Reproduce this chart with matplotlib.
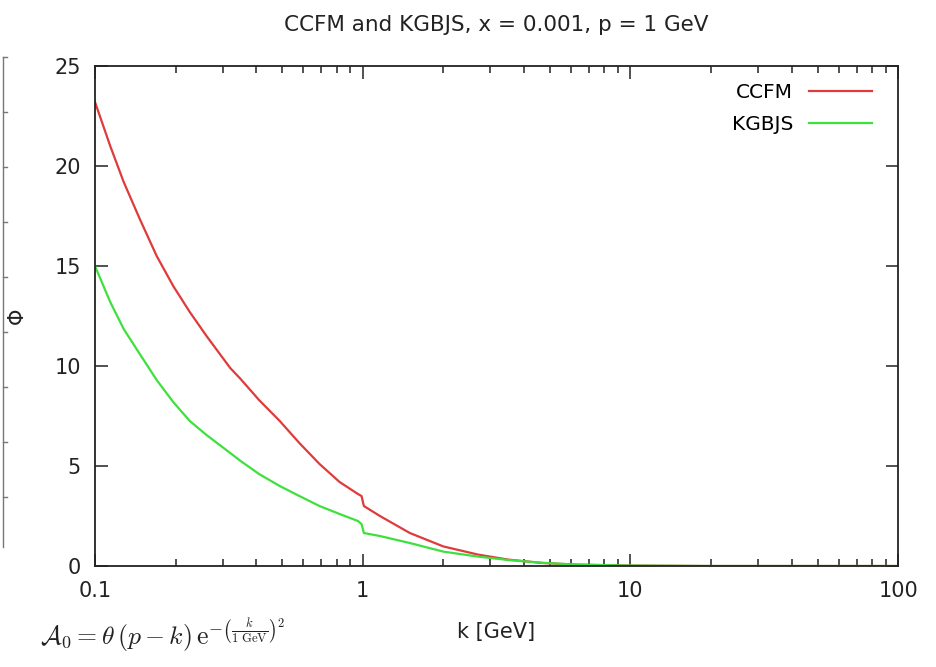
import matplotlib
matplotlib.use('Agg')
from matplotlib import pyplot as plt
from matplotlib.lines import Line2D
from matplotlib.ticker import FixedLocator, LogLocator, NullFormatter

# transverse momentum grid [GeV]
k = [0.1, 0.114, 0.128, 0.147, 0.17, 0.196, 0.226, 0.261, 0.32, 0.35,
     0.41, 0.49, 0.58, 0.69, 0.82, 0.96, 0.99, 1.01, 1.16, 1.5,
     2.0, 2.7, 3.5, 4.7, 6.3, 10, 20, 50, 100]

ccfm = [23.2, 21.0, 19.2, 17.35, 15.5, 14.0, 12.7, 11.5, 9.9, 9.35,
        8.3, 7.25, 6.15, 5.1, 4.2, 3.6, 3.5, 3.0, 2.5, 1.65,
        0.98, 0.57, 0.32, 0.15, 0.07, 0.02, 0.0, 0.0, 0.0]

kgbjs = [15.0, 13.2, 11.85, 10.6, 9.3, 8.2, 7.25, 6.55, 5.65, 5.25,
         4.6, 4.0, 3.5, 3.0, 2.6, 2.25, 2.1, 1.65, 1.5, 1.15,
         0.72, 0.47, 0.30, 0.16, 0.07, 0.02, 0.0, 0.0, 0.0]

x_ticks = [0.1, 1, 10, 100]
x_ticklabels = ['0.1', '1', '10', '100']
y_ticks = [0, 5, 10, 15, 20, 25]

plt.rcParams['font.family'] = ['DejaVu Sans']
plt.rcParams['mathtext.fontset'] = 'cm'

fig = plt.figure(figsize=(9.36, 6.67), dpi=100)
ax = fig.add_axes([0.1015, 0.1514, 0.858, 0.7496])

ax.plot(k, ccfm, color='#e03a3a', lw=1.6, label='CCFM')
ax.plot(k, kgbjs, color='#3ee03e', lw=1.6, label='KGBJS')

ax.set_xscale('log')
ax.set_xlim(0.1, 100)
ax.set_ylim(0, 25)
ax.xaxis.set_major_locator(FixedLocator(x_ticks))
ax.set_xticklabels(x_ticklabels)
ax.xaxis.set_minor_locator(LogLocator(base=10, subs=range(2, 10)))
ax.xaxis.set_minor_formatter(NullFormatter())
ax.set_yticks(y_ticks)

ax.tick_params(which='both', direction='in', top=True, right=True,
               labelsize=15, colors='#222222', width=1.1)
ax.tick_params(which='major', length=9)
ax.tick_params(axis='x', which='major', pad=11)
ax.tick_params(axis='y', which='major', pad=10)
ax.tick_params(which='minor', length=5)
for s in ax.spines.values():
    s.set_linewidth(1.3)
    s.set_color('#222222')

ax.set_title('CCFM and KGBJS, x = 0.001, p = 1 GeV', fontsize=15.5,
             color='#222222', pad=25)
ax.set_xlabel('k [GeV]', fontsize=15, color='#222222', labelpad=15)
ax.set_ylabel('Φ', fontsize=15, color='#222222', labelpad=20)

ax.legend(loc='upper right', bbox_to_anchor=(1.0, 1.018), frameon=False,
          markerfirst=False, fontsize=14.5, handlelength=3.1,
          handletextpad=0.8, labelspacing=0.65, borderaxespad=0.9)

fig.text(0.043, 0.033,
         r'$\mathcal{A}_0 = \theta\,(p-k)\,\mathrm{e}^{-\left(\frac{k}{1\ \mathrm{GeV}}\right)^2}$',
         fontsize=18.5, color='#222222')

# edge of the neighbouring panel
edge_y = [1 - y / 667 for y in (57, 547)]
fig.add_artist(Line2D([0.0035, 0.0035], edge_y, color='#777777', lw=1.0))
for i in range(9):
    yy = 1 - (57 + 55 * i) / 667
    fig.add_artist(Line2D([0.0035, 0.008], [yy, yy], color='#777777', lw=1.0))

fig.savefig('out.png', dpi=100)
